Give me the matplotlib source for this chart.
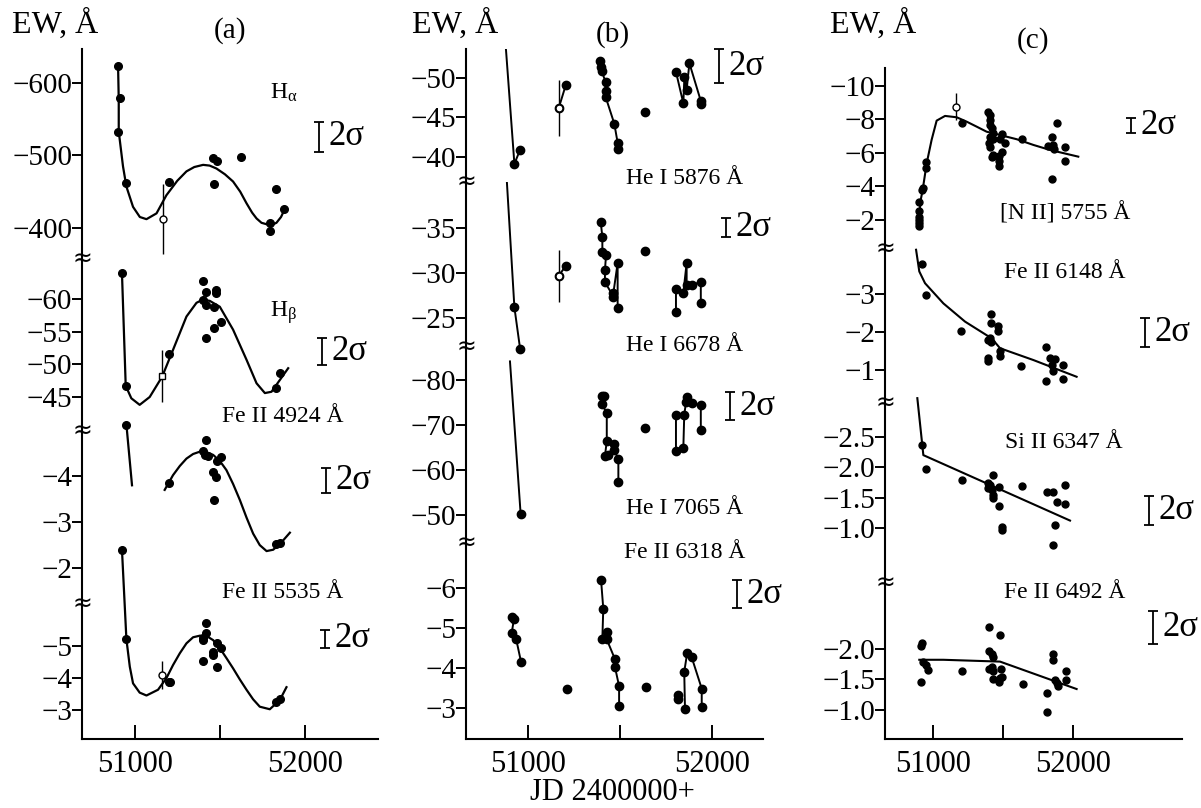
import matplotlib.pyplot as plt

plt.rcParams['font.family'] = ['Liberation Serif', 'DejaVu Serif']
plt.rcParams['mathtext.fontset'] = 'stix'
plt.rcParams['mathtext.default'] = 'regular'

W, H = 1201, 808

# ---------------- panel (a) data ----------------
ha_jd = [50902, 50912, 50902, 50951, 51200, 51461, 51482, 51467, 51622, 51833, 51798, 51798, 51875]
ha_ew = [-624, -580, -533, -462, -464, -496, -493, -460, -498, -454, -407, -395, -426]
ha_open = [51165, -412, 48]
ha_fit_jd = [50902, 50906, 50906, 50931, 50951, 50990, 51030, 51069, 51128, 51186, 51250, 51304,
             51350, 51402, 51440, 51480, 51530, 51578, 51620, 51657, 51690, 51716, 51745, 51775,
             51805, 51833, 51860, 51882]
ha_fit_ew = [-624, -577, -533, -485, -457, -429, -415, -412, -420, -445, -465, -478,
             -484, -487, -486, -482, -474, -464, -450, -434, -421, -413, -407, -405,
             -404, -407, -415, -426]

hb_jd = [50925, 50947, 51200, 51402, 51418, 51402, 51418, 51480, 51480, 51465, 51510, 51465, 51416, 51833, 51853]
hb_ew = [-63.9, -46.7, -51.6, -62.8, -61.0, -59.8, -59.1, -61.3, -60.9, -58.8, -56.4, -55.6, -54.0, -46.3, -48.6]
hb_open = [51161, -48.2, 4.0]
hb_fit_jd = [50925, 50947, 50980, 51029, 51088, 51161, 51225, 51304, 51363, 51400, 51441, 51500, 51578,
             51657, 51716, 51765, 51804, 51853, 51902]
hb_fit_ew = [-63.9, -46.7, -44.8, -43.8, -45.0, -48.1, -52.2, -57.3, -59.4, -59.9, -59.7, -58.8, -55.3,
             -50.7, -47.1, -45.6, -45.8, -47.6, -49.4]

fe4924_jd = [50951, 51202, 51402, 51418, 51412, 51429, 51506, 51484, 51461, 51480, 51465, 51833, 51853]
fe4924_ew = [-5.12, -3.86, -4.55, -4.78, -4.46, -4.44, -4.41, -4.33, -4.09, -3.97, -3.48, -2.52, -2.55]
fe4924_drop_jd = [50951, 50984]
fe4924_drop_ew = [-5.12, -3.80]
fe4924_fit_jd = [51176, 51225, 51265, 51304, 51343, 51382, 51422, 51461, 51500, 51539, 51578, 51618,
                 51657, 51696, 51735, 51775, 51814, 51860, 51912]
fe4924_fit_ew = [-3.70, -4.02, -4.22, -4.38, -4.48, -4.53, -4.52, -4.46, -4.33, -4.13, -3.83, -3.48,
                 -3.10, -2.75, -2.50, -2.37, -2.40, -2.55, -2.77]

fe5535_jd = [50925, 50951, 51200, 51210, 51418, 51418, 51402, 51402, 51484, 51510, 51461, 51461,
             51402, 51484, 51853, 51833]
fe5535_ew = [-8.0, -5.21, -3.88, -3.88, -5.71, -5.40, -5.17, -5.24, -5.10, -4.93, -4.82, -4.72,
             -4.53, -4.33, -3.33, -3.26]
fe5535_open = [51161, -4.09, 0.45]
fe5535_fit_jd = [50925, 50951, 50971, 50990, 51029, 51069, 51137, 51186, 51225, 51265, 51304, 51343,
                 51383, 51422, 51461, 51500, 51539, 51578, 51618, 51657, 51696, 51735, 51794, 51853, 51892]
fe5535_fit_ew = [-8.0, -5.21, -4.35, -3.83, -3.54, -3.45, -3.63, -3.99, -4.40, -4.77, -5.08, -5.27,
                 -5.32, -5.31, -5.18, -4.93, -4.62, -4.30, -3.95, -3.63, -3.33, -3.10, -3.02, -3.31, -3.71]

sig_a_jd = [52082, 52100, 52124, 52118]
sig_a_ew = [-525.5, -52.0, -3.90, -5.22]
sig_a_len = [41, 4.1, 0.54, 0.56]

# ---------------- panel (b) data ----------------
he5876_lead = [50880, -53.7]
he5876_jd = [50926, 50957, 51167, 51205, 51391, 51397, 51400, 51422, 51422, 51422, 51469, 51487, 51487,
             51636, 51804, 51844, 51850, 51862, 51877, 51939, 51939]
he5876_ew = [-39.1, -40.9, -46.2, -49.1, -52.2, -51.4, -50.9, -49.5, -48.4, -47.6, -44.2, -41.8, -41.0,
             -45.7, -50.8, -46.8, -50.2, -48.5, -51.9, -47.1, -46.7]
he5876_grp = [0, 0, 1, 1, 2, 2, 2, 2, 2, 2, 2, 2, 2, 3, 4, 4, 4, 4, 4, 4, 4]
he5876_open = [2, 3.5]

he6678_lead = [50884, -40.5]
he6678_jd = [50926, 50957, 51167, 51205, 51395, 51404, 51404, 51424, 51418, 51418, 51464, 51464, 51487,
             51487, 51636, 51804, 51804, 51844, 51862, 51862, 51889, 51939, 51939]
he6678_ew = [-26.2, -21.6, -29.7, -30.8, -35.7, -34.0, -32.3, -32.0, -30.3, -29.0, -27.4, -27.8, -31.1,
             -26.1, -32.5, -25.7, -28.2, -27.8, -31.1, -28.7, -28.7, -29.0, -26.7]
he6678_grp = [0, 0, 1, 1, 2, 2, 2, 2, 2, 2, 2, 2, 2, 2, 3, 4, 4, 4, 4, 4, 4, 4, 4]
he6678_open = [2, 2.9]

he7065_lead = [50902, -84.1]
he7065_jd = [50960, 51400, 51413, 51400, 51428, 51428, 51418, 51437, 51469, 51469, 51491, 51491,
             51636, 51804, 51804, 51844, 51849, 51859, 51862, 51889, 51939, 51939]
he7065_ew = [-50.2, -76.5, -76.5, -74.7, -72.7, -66.5, -63.0, -63.3, -65.7, -64.4, -62.4, -57.4,
             -69.3, -72.1, -64.3, -64.8, -72.2, -75.2, -76.3, -74.8, -74.4, -68.9]
he7065_grp = [0, 1, 1, 1, 1, 1, 1, 1, 1, 1, 1, 1, 2, 3, 3, 3, 3, 3, 3, 3, 3, 3]

fe6318_jd = [50911, 50924, 50911, 50935, 50962, 51210, 51397, 51409, 51404, 51428, 51428, 51473, 51473,
             51495, 51495, 51641, 51813, 51813, 51853, 51849, 51865, 51889, 51944, 51944]
fe6318_ew = [-5.28, -5.24, -4.87, -4.74, -4.16, -3.49, -6.2, -5.49, -4.74, -4.91, -4.72, -4.22, -4.02,
             -3.55, -3.05, -3.53, -3.32, -3.22, -2.99, -3.91, -4.38, -4.28, -3.49, -3.02]
fe6318_grp = [0, 0, 0, 0, 0, 1, 2, 2, 2, 2, 2, 2, 2, 2, 2, 3, 4, 4, 5, 5, 5, 5, 5, 5]

sig_b_jd = [52038, 52076, 52098, 52136]
sig_b_ew = [-51.5, -35.06, -74.2, -5.85]
sig_b_len = [4.3, 2.1, 6.2, 0.7]

# ---------------- panel (c) data ----------------
nii_jd = [50900, 50900, 50900, 50900, 50900, 50900, 50924, 50926, 50950, 50952, 51210,
          51395, 51407, 51407, 51407, 51419, 51426, 51407, 51431, 51400, 51407, 51426, 51419,
          51474, 51474, 51474, 51491, 51479, 51491, 51514, 51633,
          51824, 51852, 51855, 51864, 51852, 51888, 51943, 51943]
nii_ew = [-3.09, -2.56, -2.20, -2.00, -1.80, -1.64, -3.79, -3.89, -5.09, -5.44, -7.77,
          -8.43, -8.27, -7.97, -7.67, -7.47, -7.18, -6.98, -6.82, -6.62, -6.38, -5.88, -5.78,
          -5.82, -5.54, -5.24, -6.08, -6.82, -7.12, -6.62, -6.82,
          -6.42, -6.98, -6.50, -6.26, -4.43, -7.77, -6.38, -5.52]
nii_open = [51164, -8.77, 0.8]
nii_fit_jd = [50895, 50912, 50926, 50955, 50990, 51026, 51086, 51169, 51240, 51312, 51383, 51479,
              51598, 51717, 51836, 52038]
nii_fit_ew = [-1.60, -3.19, -3.79, -5.39, -6.78, -7.93, -8.21, -8.13, -7.87, -7.57, -7.27, -7.07,
              -6.82, -6.48, -6.18, -5.78]

fe6148_jd = [50919, 50948, 51198, 51414, 51414, 51462, 51462, 51395, 51414, 51407, 51395, 51395,
             51479, 51479, 51626, 51807, 51836, 51871, 51848, 51860, 51931, 51807, 51931]
fe6148_ew = [-3.79, -2.96, -2.03, -2.47, -2.24, -2.16, -2.03, -1.79, -1.74, -1.83, -1.31, -1.24,
             -1.50, -1.37, -1.09, -1.61, -1.31, -1.28, -1.13, -0.96, -1.13, -0.72, -0.76]
fe6148_fit_jd = [50879, 50902, 50943, 51074, 51229, 51419, 51479, 51717, 52026]
fe6148_fit_ew = [-4.16, -3.59, -3.28, -2.75, -2.27, -1.83, -1.57, -1.26, -0.82]

si6347_jd = [50924, 50950, 51205, 51426, 51395, 51407, 51395, 51419, 51426, 51426, 51474, 51474,
             51491, 51491, 51633, 51812, 51855, 51888, 51943, 51943, 51871, 51855]
si6347_ew = [-2.37, -1.97, -1.79, -1.87, -1.74, -1.71, -1.65, -1.63, -1.54, -1.49, -1.67, -1.36,
             -1.02, -0.97, -1.69, -1.59, -1.59, -1.42, -1.71, -1.39, -1.05, -0.71]
si6347_fit_jd = [50888, 50931, 51979]
si6347_fit_ew = [-3.14, -2.20, -1.12]

fe6492_jd = [50912, 50919, 50931, 50950, 50962, 50912, 51210, 51402, 51479, 51402, 51419, 51431,
             51402, 51419, 51431, 51426, 51486, 51479, 51491, 51474, 51641, 51817, 51817, 51855,
             51855, 51871, 51883, 51895, 51948, 51948]
fe6492_ew = [-2.04, -2.10, -1.78, -1.74, -1.66, -1.45, -1.63, -2.36, -2.22, -1.97, -1.92, -1.86,
             -1.67, -1.70, -1.64, -1.50, -1.67, -1.52, -1.54, -1.45, -1.43, -1.28, -0.96, -1.92,
             -1.82, -1.49, -1.44, -1.39, -1.64, -1.49]
fe6492_fit_jd = [50902, 51074, 51479, 52026]
fe6492_fit_ew = [-1.82, -1.82, -1.79, -1.34]

sig_c_jd = [52414, 52514, 52543, 52571]
sig_c_ew = [-7.64, -1.99, -1.29, -2.35]
sig_c_len = [0.9, 0.76, 0.48, 0.54]


fig = plt.figure(figsize=(W / 100, H / 100), dpi=100)


def px_axes(x0, x1, y0, y1):
    return fig.add_axes([x0 / W, 1 - y1 / H, (x1 - x0) / W, (y1 - y0) / H])


def ftext(x, y, s, **kw):
    fig.text(x / W, 1 - y / H, s, **kw)


def fmt(v, nd):
    s = f'{v:.{nd}f}'
    return s.replace('-', '\u2212')


def make_panel(x0, x1, edges, xlim, ylims, yticks, nds):
    axs = []
    n = len(ylims)
    for i in range(n):
        ax = px_axes(x0, x1, edges[i], edges[i + 1])
        ax.set_facecolor('none')
        ax.set_xlim(*xlim)
        ax.set_ylim(*ylims[i])
        for s in ['top', 'right']:
            ax.spines[s].set_visible(False)
        ax.spines['left'].set_linewidth(1.5)
        ax.set_yticks(yticks[i])
        ax.set_yticklabels([fmt(v, nds[i]) for v in yticks[i]])
        ax.tick_params(axis='y', direction='out', length=7, width=1.4, labelsize=21, pad=0)
        if i < n - 1:
            ax.spines['bottom'].set_visible(False)
            ax.set_xticks([])
        else:
            ax.spines['bottom'].set_linewidth(1.5)
            ax.set_xticks([51000, 51500, 52000])
            ax.set_xticklabels(['51000', '', '52000'])
            ax.tick_params(axis='x', direction='in', length=10, width=1.4, labelsize=22, pad=8)
        if i > 0:
            ax.text(0, 1, '\u2248', transform=ax.transAxes, ha='center', va='center',
                    fontsize=17, family=['DejaVu Sans'])
        axs.append(ax)
    return axs


def sigma_bar(ax, jd, ew, length):
    ax.errorbar([jd], [ew], yerr=[length / 2], fmt='none', ecolor='k', elinewidth=1.3,
                capsize=3.5, capthick=1.3, clip_on=False)
    ax.annotate('2\u03c3', (jd, ew), xytext=(7, 0), textcoords='offset points',
                ha='left', va='center', fontsize=25, annotation_clip=False)


def open_point(ax, jd, ew, err, marker='o'):
    ax.errorbar([jd], [ew], yerr=[err], fmt='none', ecolor='k', elinewidth=1.0, clip_on=False)
    ax.plot([jd], [ew], marker, ms=5, mfc='white', mec='k', mew=1.0, clip_on=False, zorder=5)


def dots(ax, jd, ew, ms=5.5):
    ax.plot(jd, ew, 'o', color='k', ms=ms, clip_on=False, zorder=4)


def fit(ax, jd, ew, lw=1.6):
    ax.plot(jd, ew, '-', color='k', lw=lw, clip_on=False, zorder=3)


def grouped(ax, jd, ew, grp, lead=None):
    for g in sorted(set(grp)):
        xs = [j for j, k in zip(jd, grp) if k == g]
        ys = [e for e, k in zip(ew, grp) if k == g]
        if lead is not None and g == grp[0]:
            ax.plot([lead[0]] + xs[:1], [lead[1]] + ys[:1], '-', color='k', lw=1.4)
        ax.plot(xs, ys, '-', color='k', lw=1.4, clip_on=False)
    dots(ax, jd, ew, ms=6)


# ---------------- panel (a) ----------------
axa = make_panel(82, 378, [49, 259, 431, 604, 739], (50690, 52430),
                 [(-357, -647), (-39.8, -66.1), (-1.22, -4.98), (-2.09, -6.31)],
                 [[-600, -500, -400], [-60, -55, -50, -45], [-4, -3, -2], [-5, -4, -3]],
                 [0, 0, 0, 0])
fit(axa[0], ha_fit_jd, ha_fit_ew)
dots(axa[0], ha_jd, ha_ew)
open_point(axa[0], *ha_open)
fit(axa[1], hb_fit_jd, hb_fit_ew)
dots(axa[1], hb_jd, hb_ew)
open_point(axa[1], *hb_open, marker='s')
fit(axa[2], fe4924_drop_jd, fe4924_drop_ew)
fit(axa[2], fe4924_fit_jd, fe4924_fit_ew)
dots(axa[2], fe4924_jd, fe4924_ew)
fit(axa[3], fe5535_fit_jd, fe5535_fit_ew)
dots(axa[3], fe5535_jd, fe5535_ew)
open_point(axa[3], *fe5535_open)
for ax, j, e, l in zip(axa, sig_a_jd, sig_a_ew, sig_a_len):
    sigma_bar(ax, j, e, l)

# ---------------- panel (b) ----------------
axb = make_panel(466, 763, [49, 182, 347, 543, 739], (50663, 52277),
                 [(-36.8, -53.7), (-21.8, -40.1), (-43.8, -87.3), (-2.23, -7.13)],
                 [[-50, -45, -40], [-35, -30, -25], [-80, -70, -60, -50], [-6, -5, -4, -3]],
                 [0, 0, 0, 0])
grouped(axb[0], he5876_jd, he5876_ew, he5876_grp, he5876_lead)
i, e = he5876_open
open_point(axb[0], he5876_jd[i], he5876_ew[i], e)
grouped(axb[1], he6678_jd, he6678_ew, he6678_grp, he6678_lead)
i, e = he6678_open
open_point(axb[1], he6678_jd[i], he6678_ew[i], e)
grouped(axb[2], he7065_jd, he7065_ew, he7065_grp, he7065_lead)
grouped(axb[3], fe6318_jd, fe6318_ew, fe6318_grp)
for ax, j, e, l in zip(axb, sig_b_jd, sig_b_ew, sig_b_len):
    sigma_bar(ax, j, e, l)

# ---------------- panel (c) ----------------
axc = make_panel(885, 1182, [68, 249, 403, 583, 739], (50657, 52779),
                 [(-0.27, -11.07), (-0.13, -4.18), (-0.09, -3.06), (-0.52, -3.08)],
                 [[-10, -8, -6, -4, -2], [-3, -2, -1], [-2.5, -2.0, -1.5, -1.0], [-2.0, -1.5, -1.0]],
                 [0, 0, 1, 1])
fit(axc[0], nii_fit_jd, nii_fit_ew, lw=1.5)
dots(axc[0], nii_jd, nii_ew, ms=5)
open_point(axc[0], *nii_open)
fit(axc[1], fe6148_fit_jd, fe6148_fit_ew, lw=1.5)
dots(axc[1], fe6148_jd, fe6148_ew, ms=5)
fit(axc[2], si6347_fit_jd, si6347_fit_ew, lw=1.5)
dots(axc[2], si6347_jd, si6347_ew, ms=5)
fit(axc[3], fe6492_fit_jd, fe6492_fit_ew, lw=1.5)
dots(axc[3], fe6492_jd, fe6492_ew, ms=5)
for ax, j, e, l in zip(axc, sig_c_jd, sig_c_ew, sig_c_len):
    sigma_bar(ax, j, e, l)

# ---------------- labels ----------------
for x in [12, 412, 830]:
    ftext(x, 33, 'EW, \u00c5', fontsize=23, ha='left', va='baseline')
ftext(230, 31, '(a)', fontsize=21, ha='center', va='center')
ftext(613, 35, '(b)', fontsize=21, ha='center', va='center')
ftext(1033, 41, '(c)', fontsize=21, ha='center', va='center')

ftext(270, 93, r'H$_{\alpha}$', fontsize=17, ha='left', va='center')
ftext(270, 313, r'H$_{\beta}$', fontsize=17, ha='left', va='center')
ftext(283, 417, 'Fe II 4924 \u00c5', fontsize=17, ha='center', va='center')
ftext(283, 592, 'Fe II 5535 \u00c5', fontsize=17, ha='center', va='center')

ftext(685, 179, 'He I 5876 \u00c5', fontsize=17, ha='center', va='center')
ftext(685, 346, 'He I 6678 \u00c5', fontsize=17, ha='center', va='center')
ftext(685, 508, 'He I 7065 \u00c5', fontsize=17, ha='center', va='center')
ftext(685, 553, 'Fe II 6318 \u00c5', fontsize=17, ha='center', va='center')

ftext(1065, 213, '[N II] 5755 \u00c5', fontsize=17, ha='center', va='center')
ftext(1065, 272, 'Fe II 6148 \u00c5', fontsize=17, ha='center', va='center')
ftext(1064, 442, 'Si II 6347 \u00c5', fontsize=17, ha='center', va='center')
ftext(1065, 593, 'Fe II 6492 \u00c5', fontsize=17, ha='center', va='center')

ftext(612, 793, 'JD 2400000+', fontsize=22, ha='center', va='center')

fig.savefig('out.png', dpi=100)
